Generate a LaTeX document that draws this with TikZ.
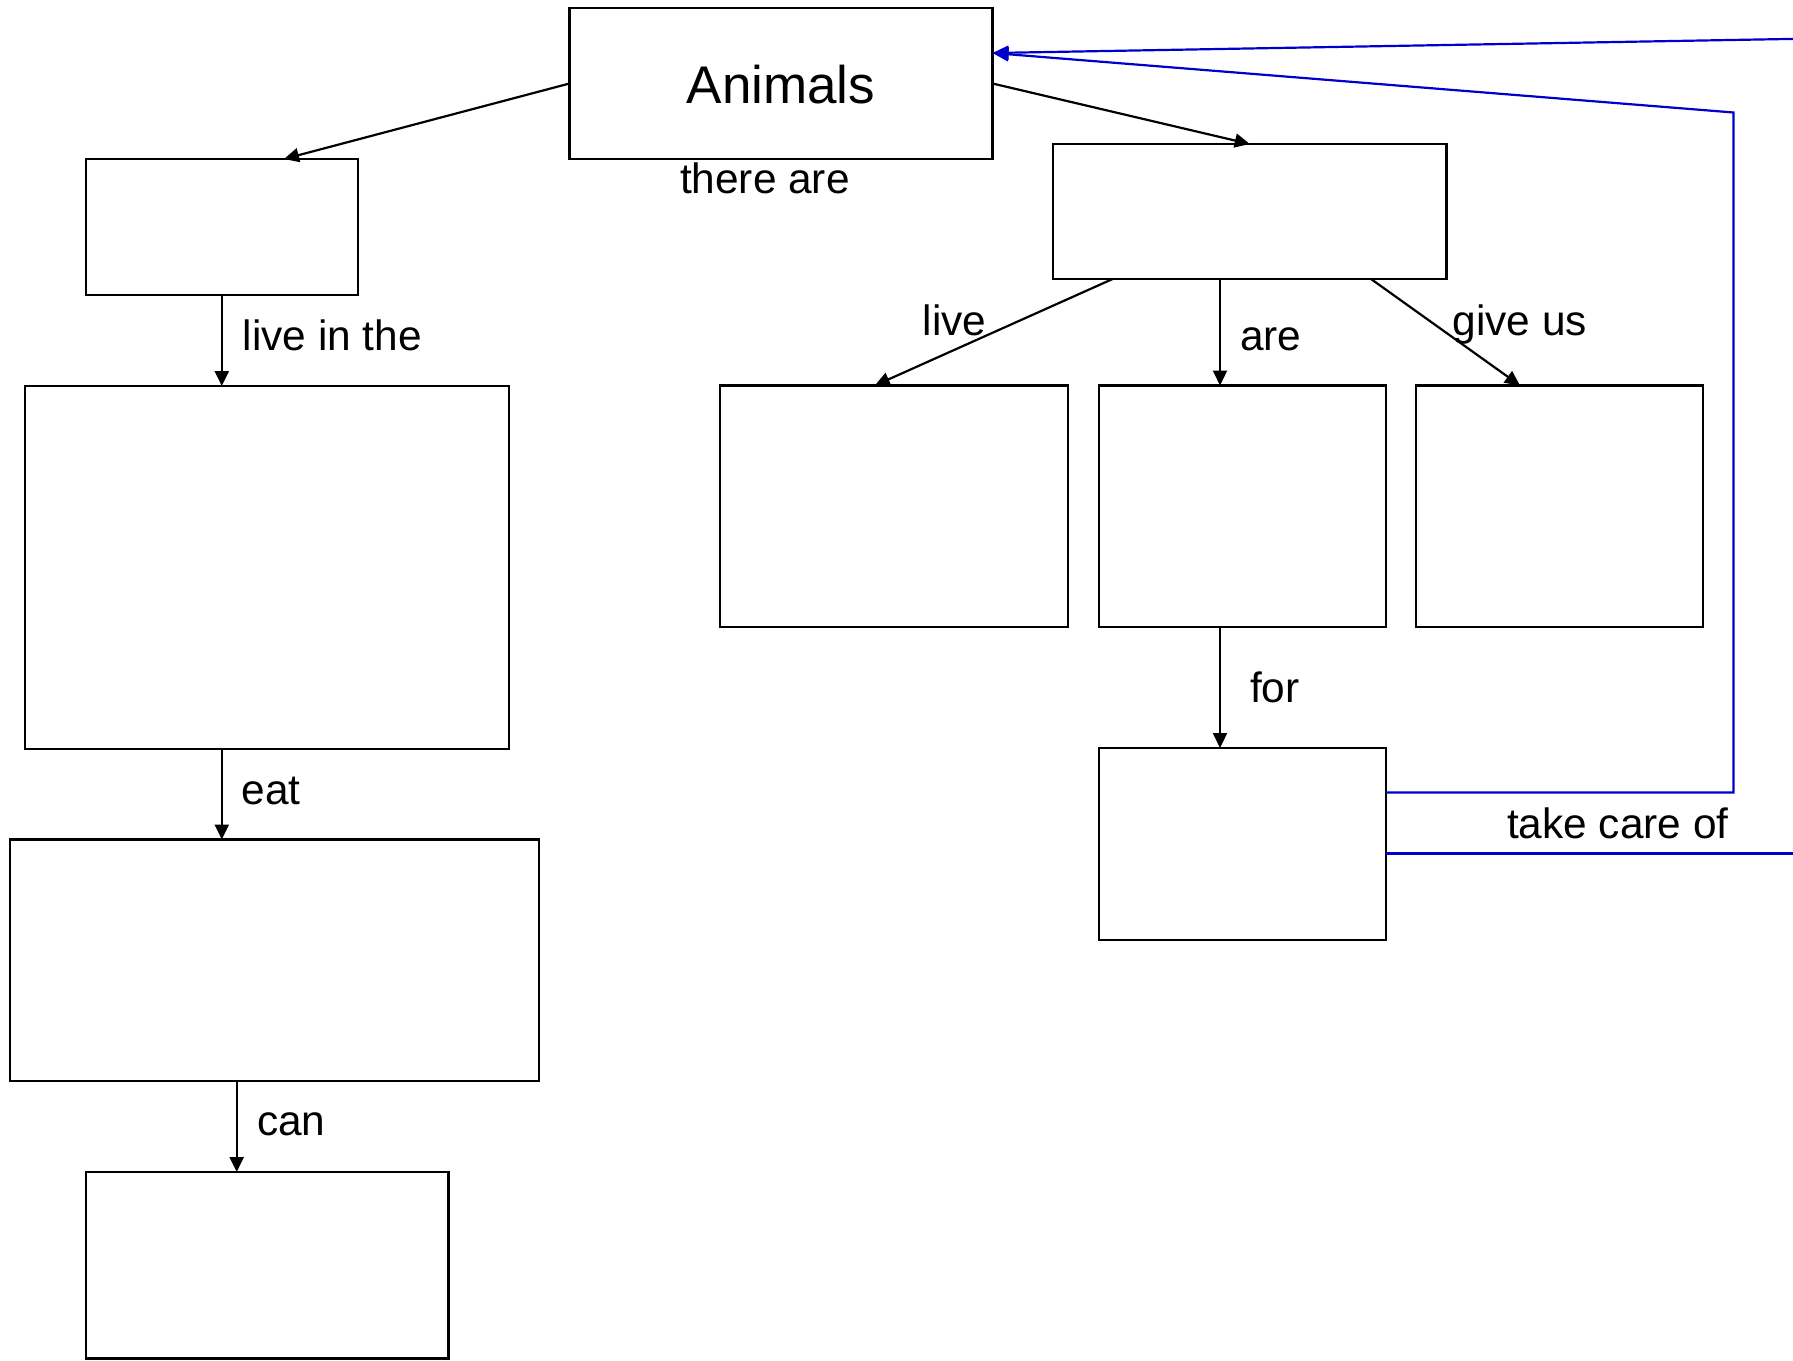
\documentclass[tikz,border=0pt]{standalone}
\usepackage{fontspec}
\setmainfont{Liberation Sans}
\usetikzlibrary{arrows.meta,calc}
\definecolor{linkblue}{RGB}{0,0,205}
\tikzset{
  box/.style={draw=black, line width=2.2pt, rectangle, inner sep=0pt, outer sep=0pt, anchor=north west, fill=white},
  arr/.style={draw=black, line width=2.2pt, -{Triangle[length=15pt,width=14pt]}},
  barr/.style={draw=linkblue, line width=2.2pt, -{Triangle[length=16pt,width=14pt]}},
  bline/.style={draw=linkblue, line width=2.2pt},
  lbl/.style={inner sep=0pt, outer sep=0pt, anchor=base west, font=\fontsize{42.4pt}{50pt}\selectfont},
}
\begin{document}
\begin{tikzpicture}[x=1pt,y=-1pt]
\useasboundingbox (0,0) rectangle (1793,1360);
% boxes
\node[box, minimum width=423pt, minimum height=151pt] (animals) at (569.5,8) {};
\node[inner sep=0pt, anchor=base, font=\fontsize{53pt}{60pt}\selectfont] (animalsT) at (781,103) {Animals};
\node[box, minimum width=272pt, minimum height=136pt] (A) at (86,159) {};
\node[box, minimum width=393.5pt, minimum height=135pt] (B) at (1053,144) {};
\node[box, minimum width=484pt, minimum height=363pt] (big) at (25,386) {};
\node[box, minimum width=529pt, minimum height=241.5pt] (eat) at (10,839.5) {};
\node[box, minimum width=362.5pt, minimum height=186.5pt] (can) at (86,1172) {};
\node[box, minimum width=348pt, minimum height=241.5pt] (live) at (720,385.5) {};
\node[box, minimum width=287pt, minimum height=241.5pt] (are) at (1099,385.5) {};
\node[box, minimum width=287pt, minimum height=241.5pt] (give) at (1416,385.5) {};
\node[box, minimum width=287pt, minimum height=192pt] (for) at (1099,748) {};
% coordinates
\coordinate (xA) at (221.8,0);
\coordinate (xC) at (236.7,0);
\coordinate (xL) at (1112.6,0);
\coordinate (xLe) at (874.8,0);
\coordinate (xR) at (1220,0);
\coordinate (xG) at (1371,0);
\coordinate (xGe) at (1520,0);
\coordinate (r1) at (1793,38.9);
\coordinate (r2) at (1733.5,112.5);
\coordinate (r3) at (1733.5,792.5);
\coordinate (r4) at (1793,853.5);
\coordinate (tip) at ($(animals.east)+(0,-30.5)$);
% black connectors
\draw[arr] (animals.west) -- ($(A.north)+(62,0)$);
\draw[arr] (animals.east) -- (B.north);
\draw[arr] (xA |- A.south) -- (xA |- big.north);
\draw[arr] (xA |- big.south) -- (xA |- eat.north);
\draw[arr] (xC |- eat.south) -- (xC |- can.north);
\draw[arr] (xL |- B.south) -- (xLe |- live.north);
\draw[arr] (xR |- B.south) -- (xR |- are.north);
\draw[arr] (xG |- B.south) -- (xGe |- give.north);
\draw[arr] (xR |- are.south) -- (xR |- for.north);
% blue connectors
\draw[barr] (r1) -- (tip);
\draw[barr] (for.east |- r3) -- (r3) -- (r2) -- (tip);
\draw[bline] (for.east |- r4) -- (r4);
% labels
\node[lbl] (l1) at (680,193) {there are};
\node[lbl] (l2) at (242.7,350.7) {live in the};
\node[lbl] (l3) at (241.7,804) {eat};
\node[lbl] (l4) at (257,1135) {can};
\node[lbl] (l5) at (922.7,335) {live};
\node[lbl] (l6) at (1240,350.7) {are};
\node[lbl] (l7) at (1452.7,335) {give us};
\node[lbl] (l8) at (1250,702.3) {for};
\node[lbl] (l9) at (1507,838.3) {take care of};
\end{tikzpicture}
\end{document}
